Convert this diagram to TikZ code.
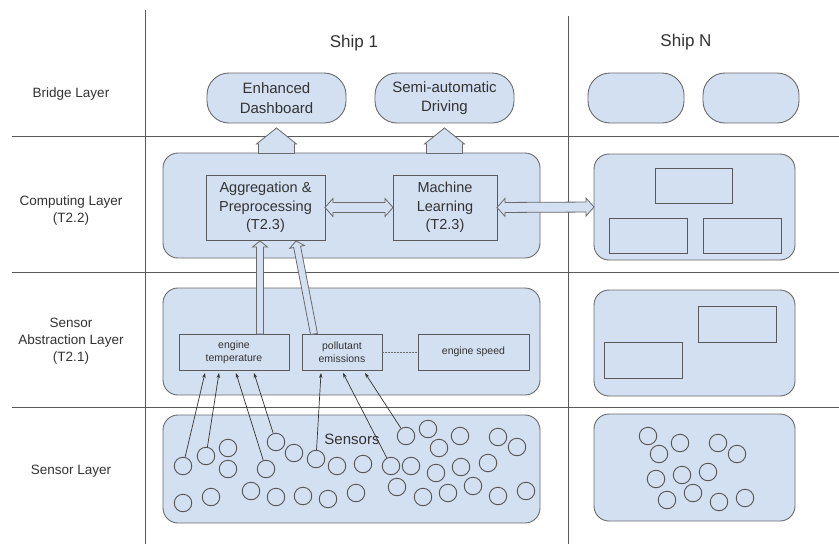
\documentclass[tikz,border=0pt]{standalone}
\usepackage{fontspec}
\setmainfont{Liberation Sans}
\usetikzlibrary{calc,arrows.meta}

\definecolor{boxfill}{HTML}{D3E0F1}
\definecolor{boxline}{HTML}{6A6A6A}
\definecolor{sepline}{HTML}{5A5A5A}
\definecolor{txt}{HTML}{333333}

\tikzset{
  container/.style={draw=boxline, fill=boxfill, rounded corners=15pt, line width=0.9pt, inner sep=0pt, outer sep=0pt},
  pill/.style={draw=boxline, fill=boxfill, rounded corners=22pt, line width=0.9pt, inner sep=0pt, outer sep=0pt, text=txt, align=center, font=\fontsize{15}{19.5}\selectfont},
  inbox/.style={draw=boxline!85!black, line width=0.9pt, inner sep=0pt, outer sep=0pt, text=txt, align=center},
  bigtxt/.style={font=\fontsize{14.5}{18.5}\selectfont},
  smalltxt/.style={font=\fontsize{10.5}{13}\selectfont},
  sensor/.style={circle, draw=boxline!80!black, line width=0.9pt, minimum size=17.5pt, inner sep=0pt},
  sep/.style={draw=sepline, line width=0.8pt},
  barrow/.style={draw=boxline, fill=boxfill, line width=0.8pt, line join=miter},
  sigarrow/.style={draw=txt, line width=0.7pt, -{Stealth[length=5pt,width=3.5pt]}},
  lbl/.style={text=txt, font=\fontsize{13.5}{17}\selectfont, align=center},
  head/.style={text=txt, font=\fontsize{17}{20}\selectfont},
  dotline/.style={draw=boxline, line width=0.5pt, dash pattern=on 1.5pt off 1.5pt}
}

% single-headed block arrow: from, to, shaft half width, head half width, head length
\newcommand{\blkone}[5]{%
  \coordinate (bkh) at ($(#2)!#5!(#1)$);
  \filldraw[barrow] ($(#1)!#3!90:(#2)$) -- ($(bkh)!#3!90:(#2)$) -- ($(bkh)!#4!90:(#2)$) -- (#2)
    -- ($(bkh)!#4!-90:(#2)$) -- ($(bkh)!#3!-90:(#2)$) -- ($(#1)!#3!-90:(#2)$) -- cycle;
}
% double-headed block arrow
\newcommand{\blktwo}[5]{%
  \coordinate (bka) at ($(#1)!#5!(#2)$);
  \coordinate (bkb) at ($(#2)!#5!(#1)$);
  \filldraw[barrow] (#1) -- ($(bka)!#4!90:(#2)$) -- ($(bka)!#3!90:(#2)$) -- ($(bkb)!#3!90:(#2)$)
    -- ($(bkb)!#4!90:(#2)$) -- (#2) -- ($(bkb)!#4!-90:(#2)$) -- ($(bkb)!#3!-90:(#2)$)
    -- ($(bka)!#3!-90:(#2)$) -- ($(bka)!#4!-90:(#2)$) -- cycle;
}

\begin{document}
\begin{tikzpicture}[x=1pt, y=-1pt]
\useasboundingbox (0,0) rectangle (839,544);
\fill[white] (0,0) rectangle (839,544);

% separators
\coordinate (hl1a) at (12,136); \coordinate (hl1b) at (839,136);
\coordinate (hl2a) at (12,272); \coordinate (hl2b) at (839,272);
\coordinate (hl3a) at (12,407); \coordinate (hl3b) at (839,407);
\coordinate (vl1a) at (145,10); \coordinate (vl1b) at (145,544);
\coordinate (vl2a) at (568,16); \coordinate (vl2b) at (568,544);
\draw[sep] (hl1a) -- (hl1b);
\draw[sep] (hl2a) -- (hl2b);
\draw[sep] (hl3a) -- (hl3b);
\draw[sep] (vl1a) -- (vl1b);
\draw[sep] (vl2a) -- (vl2b);

% headings and layer labels
\node[head] (ship1) at (354,43) {Ship 1};
\node[head] (shipn) at (686,42) {Ship N};
\node[lbl] (lbridge) at (71,94) {Bridge Layer};
\node[lbl] (lcomp) at (71,211) {Computing Layer\\(T2.2)};
\node[lbl] (lsa) at (71,341) {Sensor\\Abstraction Layer\\(T2.1)};
\node[lbl] (lsens) at (71,471) {Sensor Layer};

% ---------- Ship 1 ----------
% bridge layer
\node[pill, minimum width=139pt, minimum height=50pt] (dash) at (276.5,98) {Enhanced\\Dashboard};
\node[pill, minimum width=139pt, minimum height=50pt] (semi) at (444.5,98) {Semi-automatic\\Driving};

% computing layer
\node[container, minimum width=377pt, minimum height=105pt] (comp) at (351.5,205.5) {};
\node[inbox, bigtxt, minimum width=119pt, minimum height=65pt] (agg) at (265.5,207.5) {Aggregation \&\\Preprocessing\\(T2.3)};
\node[inbox, bigtxt, minimum width=104pt, minimum height=65pt] (ml) at (445,207.5) {Machine\\Learning\\(T2.3)};

% house arrows up to bridge layer
\coordinate (h1a) at (276.5,153.5); \coordinate (h1b) at (276.5,128);
\coordinate (h2a) at (444.5,153.5); \coordinate (h2b) at (444.5,128);
\blkone{h1a}{h1b}{18pt}{20pt}{16pt}
\blkone{h2a}{h2b}{18pt}{20pt}{16pt}

% sensor abstraction layer
\node[container, minimum width=377pt, minimum height=107pt] (sa) at (351.5,341.5) {};
\node[inbox, smalltxt, minimum width=110pt, minimum height=36pt] (et) at (234,352) {engine\\temperature};
\node[inbox, smalltxt, minimum width=80pt, minimum height=36pt] (pe) at (342,352) {pollutant\\emissions};
\node[inbox, smalltxt, minimum width=111pt, minimum height=36pt] (es) at (473.5,352) {engine speed};
\draw[dotline] (pe.east) -- (es.west);

% sensor layer
\node[container, minimum width=377pt, minimum height=108pt] (sens) at (351.5,469) {};
\node[text=txt, font=\fontsize{15}{18}\selectfont] (senslbl) at (352,439) {Sensors};
\foreach \n/\x/\y in {1/183/466, 2/206/456, 3/228/448, 4/228/469, 5/266/469, 6/276/442,
  7/294/453, 8/316/459, 9/337/466, 10/363/464, 11/391/466, 12/411/466, 13/406/436,
  14/428/429, 15/439/448, 16/460/436, 17/498/437, 18/517/447, 19/436/473, 20/461/467,
  21/488/463, 22/183/503, 23/211/497, 24/251/491, 25/276/497, 26/303/496, 27/328/499,
  28/356/493, 29/397/487, 30/423/497, 31/448/493, 32/473/486, 33/498/496, 34/526/491}
  \node[sensor] (s\n) at (\x,\y) {};

% ---------- Ship N ----------
\node[pill, minimum width=96pt, minimum height=50pt] (bn1) at (636,98) {};
\node[pill, minimum width=96pt, minimum height=50pt] (bn2) at (751,98) {};

\node[container, minimum width=201pt, minimum height=106pt] (compn) at (694.5,207) {};
\node[inbox, minimum width=77pt, minimum height=35pt] (cn1) at (693.5,185.5) {};
\node[inbox, minimum width=78pt, minimum height=35pt] (cn2) at (648,235.5) {};
\node[inbox, minimum width=78pt, minimum height=35pt] (cn3) at (742,235.5) {};

\node[container, minimum width=201pt, minimum height=106pt] (san) at (694.5,343) {};
\node[inbox, minimum width=78pt, minimum height=36pt] (an1) at (737,324) {};
\node[inbox, minimum width=78pt, minimum height=36pt] (an2) at (643,360) {};

\node[container, minimum width=201pt, minimum height=107pt] (sensn) at (694.5,467.5) {};
\foreach \n/\x/\y in {1/648/436, 2/680/443, 3/659/454, 4/718/443, 5/737/454, 6/656/479,
  7/682/475, 8/708/472, 9/667/500, 10/693/493, 11/719/502, 12/745/498}
  \node[sensor] (n\n) at (\x,\y) {};

% ---------- block arrows ----------
\blktwo{agg.east}{ml.west}{5pt}{9pt}{8pt}
\blktwo{ml.east}{compn.west}{5pt}{9pt}{8pt}

\coordinate (u1a) at (260,334); \coordinate (u1b) at (260,241);
\coordinate (u2a) at (314,334); \coordinate (u2b) at (296,241);
\blkone{u1a}{u1b}{3.5pt}{7.5pt}{6pt}
\blkone{u2a}{u2b}{3.5pt}{7.5pt}{6pt}

% ---------- sensor signal arrows ----------
\coordinate (t1) at (205,373);
\coordinate (t2) at (219,373);
\coordinate (t3) at (236,373);
\coordinate (t4) at (254,373);
\coordinate (t5) at (321,373);
\coordinate (t6) at (343,373);
\coordinate (t7) at (365,373);
\draw[sigarrow] (s1) -- (t1);
\draw[sigarrow] (s2) -- (t2);
\draw[sigarrow] (s5) -- (t3);
\draw[sigarrow] (s6) -- (t4);
\draw[sigarrow] (s8) -- (t5);
\draw[sigarrow] (s11) -- (t6);
\draw[sigarrow] (s13) -- (t7);
\end{tikzpicture}
\end{document}
